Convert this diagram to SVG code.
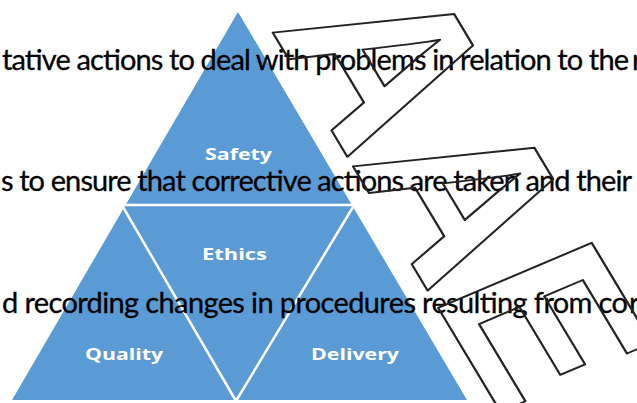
<svg xmlns="http://www.w3.org/2000/svg" width="637" height="403" viewBox="0 0 637 403">
  <style>
    .body { font-family: Lato, "Open Sans", sans-serif; font-size: 29px; fill: #000; stroke: #000; stroke-width: 0.3; }
    .lbl { font-family: "Open Sans", "DejaVu Sans", sans-serif; font-size: 16px; font-weight: bold; fill: #fff; text-anchor: start; }
    .sep { stroke: #fff; stroke-width: 2.5; fill: none; }
    .wm { font-family: "Liberation Sans", Arial, sans-serif; font-weight: bold; font-size: 240px; fill: none; stroke: #222; stroke-width: 2.2; stroke-linejoin: round; }
  </style>
  <rect width="637" height="403" fill="#fff"/>
  <g id="pyramid">
    <polygon points="238,12 12,400 467,400" fill="#5b9bd5"/>
  </g>
  <g id="connectors">
    <line class="sep" x1="122" y1="205" x2="355" y2="205"/>
    <line class="sep" x1="123" y1="207" x2="236" y2="401"/>
    <line class="sep" x1="353" y1="207" x2="236" y2="401"/>
  </g>
  <g id="safety"><text class="lbl" x="205" y="160" textLength="67" lengthAdjust="spacingAndGlyphs">Safety</text></g>
  <g id="ethics"><text class="lbl" x="202" y="260" textLength="65" lengthAdjust="spacingAndGlyphs">Ethics</text></g>
  <g id="quality"><text class="lbl" x="85" y="360" textLength="78" lengthAdjust="spacingAndGlyphs">Quality</text></g>
  <g id="delivery"><text class="lbl" x="311" y="360" textLength="88" lengthAdjust="spacingAndGlyphs">Delivery</text></g>
  <g id="body-text">
    <text class="body" x="2" y="70" textLength="627">tative actions to deal with problems in relation to the</text>
    <text class="body" x="632" y="70">r</text>
    <text class="body" x="1" y="191" textLength="631">s to ensure that corrective actions are taken and their</text>
    <text class="body" x="2" y="313" textLength="626">d recording changes in procedures resulting from co</text>
    <text class="body" x="629" y="313">rr</text>
  </g>
  <g id="watermark">
    <text class="wm" transform="translate(270,28) rotate(59) skewX(-8) scale(0.9,1)">AAE</text>
  </g>
</svg>
